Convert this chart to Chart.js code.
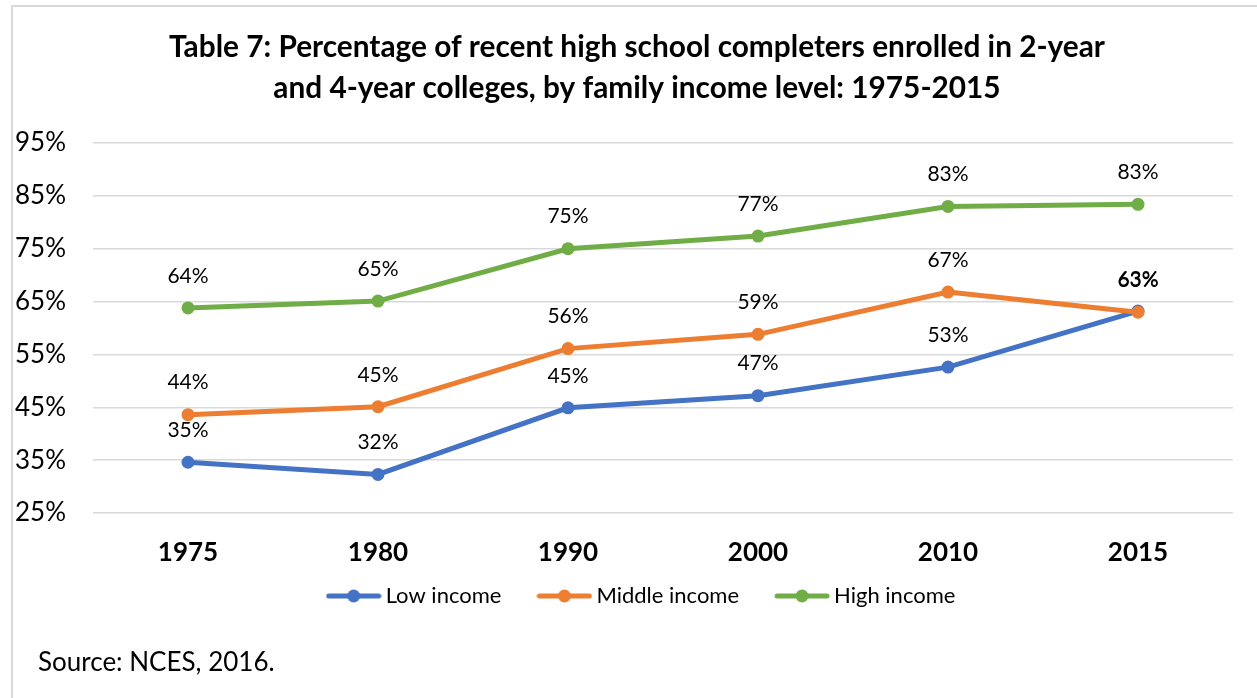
<!DOCTYPE html>
<html>
<head>
<meta charset="utf-8">
<script src="https://cdn.jsdelivr.net/npm/chart.js@4"></script>
<style>
  body { margin: 0; background: #fff; }
  #frame {
    position: absolute; left: 11px; top: 5px; width: 1246px; height: 693px;
    border-left: 2px solid #d9d9d9; border-top: 2px solid #d9d9d9;
  }
  #source {
    position: absolute; left: 25px; top: 638px;
    font-family: Lato, sans-serif; font-size: 26px; color: #000;
  }
</style>
</head>
<body>
<div id="frame">
  <canvas id="incomeChart" width="1244" height="691"></canvas>
  <div id="source">Source: NCES, 2016.</div>
</div>
<script>
// enrollment rates (%) by family income
const years = ['1975', '1980', '1990', '2000', '2010', '2015'];
const lowIncome = [34.6, 32.3, 44.9, 47.2, 52.6, 63.2];
const middleIncome = [43.6, 45.1, 56.1, 58.8, 66.8, 63.0];
const highIncome = [63.8, 65.1, 75.0, 77.4, 83.0, 83.4];
const yTicks = [25, 35, 45, 55, 65, 75, 85, 95];

const FONT = 'Lato, sans-serif';

// little line-with-dot marker for the legend
function legendMarker(color) {
    const c = document.createElement('canvas');
    c.width = 56; c.height = 14;
    const g = c.getContext('2d');
    g.strokeStyle = color;
    g.lineWidth = 5;
    g.lineCap = 'round';
    g.beginPath(); g.moveTo(3, 7); g.lineTo(53, 7); g.stroke();
    g.fillStyle = color;
    g.beginPath(); g.arc(28, 7, 6.5, 0, Math.PI * 2); g.fill();
    return c;
}

function series(label, data, color, order) {
    return {
        label: label,
        data: data,
        borderColor: color,
        backgroundColor: color,
        borderWidth: 5,
        pointRadius: 6.5,
        pointHoverRadius: 6.5,
        pointBorderWidth: 0,
        tension: 0,
        order: order
    };
}

// value labels above each point
const pointLabels = {
    id: 'pointLabels',
    afterDatasetsDraw(chart) {
        const ctx = chart.ctx;
        ctx.save();
        ctx.font = '21px ' + FONT;
        ctx.fillStyle = '#000';
        ctx.textAlign = 'center';
        ctx.textBaseline = 'middle';
        chart.data.datasets.forEach((ds, i) => {
            chart.getDatasetMeta(i).data.forEach((pt, j) => {
                ctx.fillText(Math.round(ds.data[j]) + '%', pt.x, pt.y - 32);
            });
        });
        ctx.restore();
    }
};

// nudge legend and title: legend sits close to the axis, both centred on the frame
const boxNudge = {
    id: 'boxNudge',
    afterLayout(chart) {
        const lg = chart.legend;
        lg.left += 20; lg.right += 20;
        lg.top -= 22; lg.bottom -= 22;
        const tb = chart.titleBlock;
        tb.left += 13; tb.right += 13;
    }
};

const ctx = document.getElementById('incomeChart').getContext('2d');
new Chart(ctx, {
    type: 'line',
    data: {
        labels: years,
        datasets: [
            series('Low income', lowIncome, '#4472C4', 3),
            series('Middle income', middleIncome, '#ED7D31', 2),
            series('High income', highIncome, '#70AD47', 1)
        ]
    },
    options: {
        responsive: false,
        animation: false,
        layout: { padding: { left: 2, right: 24, top: 0, bottom: 59 } },
        scales: {
            x: {
                offset: true,
                grid: { display: false, drawTicks: false },
                border: { display: false },
                ticks: {
                    color: '#000',
                    padding: 24,
                    font: { family: FONT, size: 26, weight: 'bold' }
                },
                afterFit(axis) { axis.height = 52; }
            },
            y: {
                min: 25,
                max: 95,
                afterBuildTicks(axis) { axis.ticks = yTicks.map(v => ({ value: v })); },
                grid: { color: '#d9d9d9', lineWidth: 1.5, drawTicks: false },
                border: { display: false },
                ticks: {
                    color: '#000',
                    crossAlign: 'far',
                    padding: 0,
                    font: { family: FONT, size: 26 },
                    callback: v => v + '%'
                },
                afterFit(axis) { axis.width = 78; }
            }
        },
        plugins: {
            title: {
                display: true,
                text: ['Table 7: Percentage of recent high school completers enrolled in 2-year',
                       'and 4-year colleges, by family income level: 1975-2015'],
                color: '#000',
                font: { family: FONT, size: 29.8, weight: 'bold', lineHeight: 1.376 },
                padding: { top: 19.5, bottom: 34.5 }
            },
            legend: {
                position: 'bottom',
                labels: {
                    color: '#000',
                    font: { family: FONT, size: 22 },
                    usePointStyle: true,
                    pointStyleWidth: 42,
                    padding: 42,
                    generateLabels(chart) {
                        return chart.data.datasets.map((ds, i) => ({
                            text: ds.label,
                            pointStyle: legendMarker(ds.borderColor),
                            fillStyle: ds.borderColor,
                            strokeStyle: ds.borderColor,
                            lineWidth: 0,
                            hidden: false,
                            datasetIndex: i
                        }));
                    }
                }
            },
            tooltip: { enabled: false }
        }
    },
    plugins: [pointLabels, boxNudge]
});
</script>
</body>
</html>
